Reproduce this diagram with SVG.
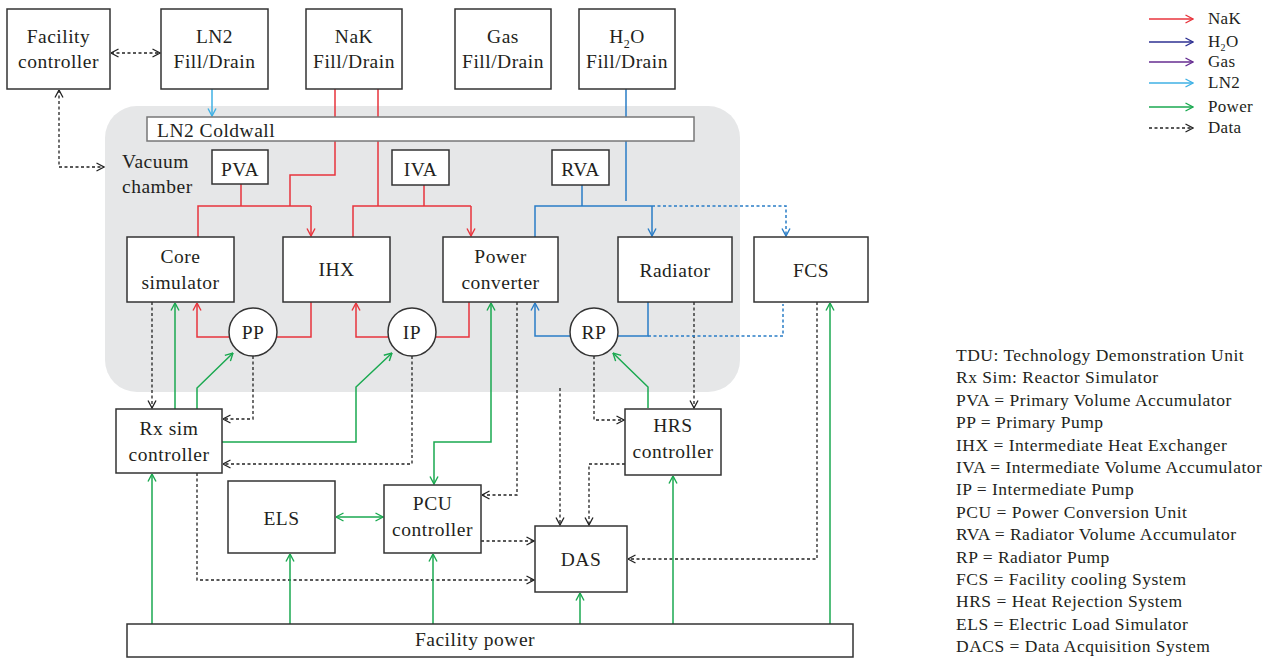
<svg xmlns="http://www.w3.org/2000/svg" width="1277" height="660" viewBox="0 0 1277 660">
<style>
.box{fill:#fff;stroke:#333;stroke-width:1.5}
.t{font-family:"Liberation Serif",serif;font-size:19.5px;letter-spacing:0.5px;fill:#231f20;text-anchor:middle}
.tl{font-family:"Liberation Serif",serif;font-size:17px;letter-spacing:0.3px;fill:#231f20}
.tn{font-family:"Liberation Serif",serif;font-size:19.5px;letter-spacing:0.5px;fill:#231f20}
.ta{font-family:"Liberation Serif",serif;font-size:17.5px;letter-spacing:0.5px;fill:#231f20}
.c{fill:none;stroke-width:1.5}
.nak{stroke:#e8343c}
.blu{stroke:#2a7dc6}
.ln2{stroke:#3fb1e5}
.pow{stroke:#1aa950}
.dat{stroke:#222;stroke-width:1.3;stroke-dasharray:3 2.5}
.bdash{stroke-dasharray:3 2.5}
</style>
<defs>
<marker id="aR" viewBox="0 0 10 10" refX="9.5" refY="5" markerWidth="10" markerHeight="10" markerUnits="userSpaceOnUse" orient="auto-start-reverse"><path d="M2,1 L9.5,5 L2,9" fill="none" stroke="#e8343c" stroke-width="1.4"/></marker>
<marker id="aB" viewBox="0 0 10 10" refX="9.5" refY="5" markerWidth="10" markerHeight="10" markerUnits="userSpaceOnUse" orient="auto-start-reverse"><path d="M2,1 L9.5,5 L2,9" fill="none" stroke="#2a7dc6" stroke-width="1.4"/></marker>
<marker id="aL" viewBox="0 0 10 10" refX="9.5" refY="5" markerWidth="10" markerHeight="10" markerUnits="userSpaceOnUse" orient="auto-start-reverse"><path d="M2,1 L9.5,5 L2,9" fill="none" stroke="#3fb1e5" stroke-width="1.4"/></marker>
<marker id="aG" viewBox="0 0 10 10" refX="9.5" refY="5" markerWidth="10" markerHeight="10" markerUnits="userSpaceOnUse" orient="auto-start-reverse"><path d="M2,1 L9.5,5 L2,9" fill="none" stroke="#1aa950" stroke-width="1.4"/></marker>
<marker id="aK" viewBox="0 0 10 10" refX="9.5" refY="5" markerWidth="10" markerHeight="10" markerUnits="userSpaceOnUse" orient="auto-start-reverse"><path d="M2,1 L9.5,5 L2,9" fill="none" stroke="#222" stroke-width="1.3"/></marker>
<marker id="aN" viewBox="0 0 10 10" refX="9.5" refY="5" markerWidth="10" markerHeight="10" markerUnits="userSpaceOnUse" orient="auto-start-reverse"><path d="M2,1 L9.5,5 L2,9" fill="none" stroke="#2e3192" stroke-width="1.4"/></marker>
<marker id="aP" viewBox="0 0 10 10" refX="9.5" refY="5" markerWidth="10" markerHeight="10" markerUnits="userSpaceOnUse" orient="auto-start-reverse"><path d="M2,1 L9.5,5 L2,9" fill="none" stroke="#662d91" stroke-width="1.4"/></marker>
</defs>
<rect width="1277" height="660" fill="#fff"/>

<g id="vacuum-chamber">
<rect x="105" y="106" width="635" height="286" rx="32" fill="#e6e7e8"/>
<text class="tn" x="122" y="168">Vacuum</text>
<text class="tn" x="122" y="193">chamber</text>
</g>

<g id="connectors">
<!-- data -->
<path class="c dat" d="M111,53 H160" marker-start="url(#aK)" marker-end="url(#aK)"/>
<path class="c dat" d="M59,90 V167 H104" marker-start="url(#aK)" marker-end="url(#aK)"/>
<path class="c dat" d="M152,302 V408" marker-end="url(#aK)"/>
<path class="c dat" d="M253,356 V419 H223" marker-end="url(#aK)"/>
<path class="c dat" d="M412,356 V464 H223" marker-end="url(#aK)"/>
<path class="c dat" d="M517,302 V495 H482" marker-end="url(#aK)"/>
<path class="c dat" d="M560,388 V525" marker-end="url(#aK)"/>
<path class="c dat" d="M594,356 V420 H624" marker-end="url(#aK)"/>
<path class="c dat" d="M694,302 V408" marker-end="url(#aK)"/>
<path class="c dat" d="M625,464 H589 V525" marker-end="url(#aK)"/>
<path class="c dat" d="M817,302 V559 H628" marker-end="url(#aK)"/>
<path class="c dat" d="M481,541 H534" marker-end="url(#aK)"/>
<path class="c dat" d="M197,473 V580 H534" marker-end="url(#aK)"/>
<!-- NaK -->
<path class="c nak" d="M335,89 V117 M378,89 V117"/>
<path class="c nak" d="M335,141 V175 H290 V206 M198,237 V206 H241 V184 M241,206 H311"/>
<path class="c nak" d="M311,206 V236" marker-end="url(#aR)"/>
<path class="c nak" d="M378,141 V206 M353,237 V206 H471 M424,185 V206"/>
<path class="c nak" d="M471,206 V236" marker-end="url(#aR)"/>
<path class="c nak" d="M229,337 H197 V303" marker-end="url(#aR)"/>
<path class="c nak" d="M277,337 H311 V302"/>
<path class="c nak" d="M388,337 H356 V303" marker-end="url(#aR)"/>
<path class="c nak" d="M436,337 H469 V302"/>
<!-- H2O -->
<path class="c blu" d="M626,89 V117 M626,141 V201"/>
<path class="c blu" d="M535,237 V206 H652 M582,185 V206"/>
<path class="c blu" d="M652,206 V236" marker-end="url(#aB)"/>
<path class="c blu bdash" d="M652,206 H786 V236" marker-end="url(#aB)"/>
<path class="c blu" d="M570,336 H535 V303" marker-end="url(#aB)"/>
<path class="c blu" d="M618,336 H648 V302"/>
<path class="c blu bdash" d="M648,336 H783 V304"/>
<!-- LN2 -->
<path class="c ln2" d="M212,89 V116" marker-end="url(#aL)"/>
<!-- power -->
<path class="c pow" d="M175,409 V303" marker-end="url(#aG)"/>
<path class="c pow" d="M197,409 V388 L233,353" marker-end="url(#aG)"/>
<path class="c pow" d="M222,442 H356 V387 L392,353" marker-end="url(#aG)"/>
<path class="c pow" d="M491,303 V442 H434 V484" marker-start="url(#aG)" marker-end="url(#aG)"/>
<path class="c pow" d="M648,408 V387 L613,353" marker-end="url(#aG)"/>
<path class="c pow" d="M830,624 V303" marker-end="url(#aG)"/>
<path class="c pow" d="M673,624 V476" marker-end="url(#aG)"/>
<path class="c pow" d="M580,624 V593" marker-end="url(#aG)"/>
<path class="c pow" d="M433,624 V554" marker-end="url(#aG)"/>
<path class="c pow" d="M290,624 V554" marker-end="url(#aG)"/>
<path class="c pow" d="M152,624 V474" marker-end="url(#aG)"/>
<path class="c pow" d="M336,517 H383" marker-start="url(#aG)" marker-end="url(#aG)"/>
</g>

<g id="facility-controller"><rect class="box" x="7" y="9" width="103" height="80"/><text class="t" x="58.5" y="43">Facility</text><text class="t" x="58.5" y="68">controller</text></g>
<g id="ln2-fill"><rect class="box" x="161" y="9" width="107" height="80"/><text class="t" x="214.5" y="43">LN2</text><text class="t" x="214.5" y="68">Fill/Drain</text></g>
<g id="nak-fill"><rect class="box" x="306" y="9" width="96" height="80"/><text class="t" x="354" y="43">NaK</text><text class="t" x="354" y="68">Fill/Drain</text></g>
<g id="gas-fill"><rect class="box" x="455" y="9" width="96" height="80"/><text class="t" x="503" y="43">Gas</text><text class="t" x="503" y="68">Fill/Drain</text></g>
<g id="h2o-fill"><rect class="box" x="579" y="9" width="96" height="80"/><text class="t" x="627" y="43">H<tspan font-size="12" dy="5">2</tspan><tspan dy="-5">O</tspan></text><text class="t" x="627" y="68">Fill/Drain</text></g>

<g id="ln2-coldwall"><rect x="147" y="117" width="547" height="24" fill="#fff" stroke="#777" stroke-width="1.5"/><text class="tn" x="157" y="137">LN2 Coldwall</text></g>

<g id="pva"><rect class="box" x="212" y="150" width="56" height="34"/><text class="t" x="240" y="176">PVA</text></g>
<g id="iva"><rect class="box" x="392" y="150" width="57" height="35"/><text class="t" x="420.5" y="176">IVA</text></g>
<g id="rva"><rect class="box" x="552" y="150" width="57" height="35"/><text class="t" x="580.5" y="176">RVA</text></g>

<g id="core-simulator"><rect class="box" x="127" y="237" width="107" height="65"/><text class="t" x="180.5" y="263">Core</text><text class="t" x="180.5" y="289">simulator</text></g>
<g id="ihx"><rect class="box" x="283" y="237" width="107" height="65"/><text class="t" x="336.5" y="276">IHX</text></g>
<g id="power-converter"><rect class="box" x="443" y="237" width="115" height="65"/><text class="t" x="500.5" y="263">Power</text><text class="t" x="500.5" y="289">converter</text></g>
<g id="radiator"><rect class="box" x="618" y="237" width="114" height="65"/><text class="t" x="675" y="277">Radiator</text></g>
<g id="fcs"><rect class="box" x="754" y="237" width="114" height="65"/><text class="t" x="811" y="277">FCS</text></g>

<g id="pp"><circle class="box" cx="253" cy="332" r="24"/><text class="t" x="253" y="339">PP</text></g>
<g id="ip"><circle class="box" cx="412" cy="332" r="24"/><text class="t" x="412" y="339">IP</text></g>
<g id="rp"><circle class="box" cx="594" cy="332" r="24"/><text class="t" x="594" y="339">RP</text></g>

<g id="rx-sim-controller"><rect class="box" x="116" y="409" width="106" height="64"/><text class="t" x="169" y="435">Rx sim</text><text class="t" x="169" y="461">controller</text></g>
<g id="hrs-controller"><rect class="box" x="625" y="409" width="96" height="66"/><text class="t" x="673" y="432">HRS</text><text class="t" x="673" y="458">controller</text></g>
<g id="els"><rect class="box" x="228" y="481" width="107" height="72"/><text class="t" x="281.5" y="525">ELS</text></g>
<g id="pcu-controller"><rect class="box" x="384" y="485" width="97" height="68"/><text class="t" x="432.5" y="510">PCU</text><text class="t" x="432.5" y="536">controller</text></g>
<g id="das"><rect class="box" x="535" y="526" width="92" height="66"/><text class="t" x="581" y="566">DAS</text></g>
<g id="facility-power"><rect class="box" x="127" y="624" width="726" height="33"/><text class="t" x="475" y="646">Facility power</text></g>

<g id="legend">
<path class="c nak" d="M1149,19 H1193" marker-end="url(#aR)"/>
<path class="c" stroke="#2e3192" d="M1149,42 H1193" marker-end="url(#aN)"/>
<path class="c" stroke="#662d91" d="M1149,62 H1193" marker-end="url(#aP)"/>
<path class="c ln2" d="M1149,83 H1193" marker-end="url(#aL)"/>
<path class="c pow" d="M1149,107 H1193" marker-end="url(#aG)"/>
<path class="c dat" d="M1149,128 H1193" marker-end="url(#aK)"/>
<text class="tl" x="1208" y="24">NaK</text>
<text class="tl" x="1208" y="47">H<tspan font-size="10" dy="4">2</tspan><tspan dy="-4">O</tspan></text>
<text class="tl" x="1208" y="67">Gas</text>
<text class="tl" x="1208" y="88">LN2</text>
<text class="tl" x="1208" y="112">Power</text>
<text class="tl" x="1208" y="133">Data</text>
</g>

<g id="abbreviations">
<text class="ta" x="956" y="361">TDU: Technology Demonstration Unit</text>
<text class="ta" x="956" y="383">Rx Sim: Reactor Simulator</text>
<text class="ta" x="956" y="406">PVA = Primary Volume Accumulator</text>
<text class="ta" x="956" y="428">PP = Primary Pump</text>
<text class="ta" x="956" y="451">IHX = Intermediate Heat Exchanger</text>
<text class="ta" x="956" y="473">IVA = Intermediate Volume Accumulator</text>
<text class="ta" x="956" y="495">IP = Intermediate Pump</text>
<text class="ta" x="956" y="518">PCU = Power Conversion Unit</text>
<text class="ta" x="956" y="540">RVA = Radiator Volume Accumulator</text>
<text class="ta" x="956" y="563">RP = Radiator Pump</text>
<text class="ta" x="956" y="585">FCS = Facility cooling System</text>
<text class="ta" x="956" y="607">HRS = Heat Rejection System</text>
<text class="ta" x="956" y="630">ELS = Electric Load Simulator</text>
<text class="ta" x="956" y="652">DACS = Data Acquisition System</text>
</g>
</svg>
